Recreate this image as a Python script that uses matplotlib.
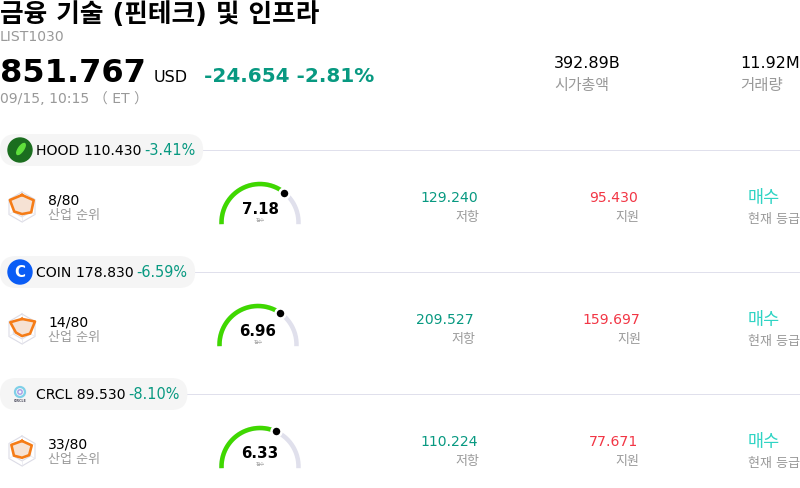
import numpy as np
import matplotlib
matplotlib.use('Agg')
import matplotlib.pyplot as plt
from matplotlib.patches import Circle, Ellipse, FancyBboxPatch

plt.rcParams['font.family'] = ['DejaVu Sans', 'Noto Sans CJK KR']

# header
title = '금융 기술 (핀테크) 및 인프라'
code = 'LIST1030'
index_price = '851.767'
currency = 'USD'
index_change = '-24.654 -2.81%'
timestamp = '09/15, 10:15 （ ET ）'
market_cap = '392.89B'
volume = '11.92M'

# rows
tickers = ['HOOD', 'COIN', 'CRCL']
prices = ['110.430', '178.830', '89.530']
changes = ['-3.41%', '-6.59%', '-8.10%']
ranks = ['8/80', '14/80', '33/80']
scores = [7.18, 6.96, 6.33]
resistance = ['129.240', '209.527', '110.224']
support = ['95.430', '159.697', '77.671']
ratings = ['매수', '매수', '매수']
radar_values = [
    [0.80, 0.90, 0.71, 0.47, 0.60, 0.93],
    [0.67, 1.00, 0.62, 0.47, 0.47, 0.90],
    [0.67, 0.75, 0.55, 0.45, 0.62, 0.82],
]

GREEN = '#089981'
RED = '#f23645'
GREY = '#999999'
TRACK = '#e0e0ec'
W, H = 800, 488


def px(size):
    # css pixels to points at dpi 100
    return size * 0.72


fig = plt.figure(figsize=(W / 100, H / 100), dpi=100)
ax = fig.add_axes([0, 0, 1, 1])
ax.set_xlim(0, W)
ax.set_ylim(H, 0)
ax.axis('off')


def label(x, y, s, size, color='black', weight='normal', ha='left'):
    return ax.text(x, y, s, fontsize=px(size), color=color, fontweight=weight,
                   ha=ha, va='baseline')


def inset_polar(cx, cy, r):
    a = fig.add_axes([(cx - r) / W, 1 - (cy + r) / H, 2 * r / W, 2 * r / H],
                     projection='polar')
    a.set_ylim(0, 1)
    a.axis('off')
    a.patch.set_alpha(0)
    return a


def draw_gauge(cx, cy, score):
    a = inset_polar(cx, cy, 44)
    a.set_ylim(0, 44)
    # arc runs a little past the horizontal on both sides
    over = np.radians(2.5)
    theta = np.linspace(-over, np.pi + over, 200)
    a.plot(theta, np.full(200, 38.5), color=TRACK, lw=px(4.5),
           solid_capstyle='butt', clip_on=False)
    end = np.pi * (1 - score / 10)
    theta = np.linspace(end, np.pi + over, 200)
    a.plot(theta, np.full(200, 38.5), color='#3fd800', lw=px(4.5),
           solid_capstyle='butt', clip_on=False)
    a.plot([end], [38.5], 'o', color='black', ms=px(10), mec='white',
           mew=px(2.5), clip_on=False)
    label(cx, cy - 9, f'{score:.2f}', 15, weight='bold', ha='center')
    label(cx, cy - 1, '점수', 5, color='#aaaaaa', ha='center')


def draw_radar(cx, cy, values):
    a = inset_polar(cx, cy, 15)
    theta = np.linspace(0, 2 * np.pi, 7)
    a.set_theta_zero_location('N')
    a.set_theta_direction(-1)
    for level in [1.0, 0.66, 0.33]:
        a.plot(theta, np.full(7, level), color='#dcdce6', lw=0.8, clip_on=False)
    for t in theta[:3]:
        a.plot([t, t + np.pi], [1, 1], color='#e8e8ee', lw=0.5, clip_on=False)
    v = list(values) + [values[0]]
    a.fill(theta, v, color='#f6e2d4', zorder=3)
    a.plot(theta, v, color='#f57c17', lw=px(2.6), zorder=4, clip_on=False)


def draw_logo(name, cx, cy):
    if name == 'HOOD':
        ax.add_patch(Circle((cx, cy), 12, color='#1b6e1f', zorder=3))
        ax.add_patch(Ellipse((cx + 1, cy - 1), 5, 13, angle=35, color='#5fe03c', zorder=4))
    elif name == 'COIN':
        ax.add_patch(Circle((cx, cy), 12, color='#0a5cf5', zorder=3))
        ax.text(cx, cy + 0.5, 'C', color='white', fontsize=px(15), fontweight='bold',
                ha='center', va='center', zorder=4)
    else:
        ax.add_patch(Circle((cx, cy - 2), 5, fill=False, ec='#7fd0e8', lw=1.6, zorder=3))
        ax.add_patch(Circle((cx, cy - 2), 2.2, fill=False, ec='#a79be8', lw=1, zorder=3))
        ax.text(cx, cy + 8, 'CIRCLE', color='#555566', fontsize=2.4, fontweight='bold',
                ha='center', va='baseline', zorder=4)


# header text
label(0, 22, title, 25.7, weight='bold')
label(0, 41, code, 14, color=GREY)
label(0, 82, index_price, 32, weight='bold')
label(154, 82, currency, 16)
label(204, 82, index_change, 20, color=GREEN, weight='bold')
label(0, 103, timestamp, 14, color=GREY)
label(554, 68, market_cap, 16)
label(554, 90, '시가총액', 15, color=GREY)
label(740, 68, volume, 16)
label(740, 90, '거래량', 15.5, color=GREY)

# small layout differences between rows in the reference
gauge_x = [260, 258, 260]
resist_x = [478, 474, 478]
support_x = [638, 640, 638]

fig.canvas.draw()
renderer = fig.canvas.get_renderer()

for i, name in enumerate(tickers):
    y0 = 122 * i
    head = label(36, y0 + 155, f'{name} {prices[i]} ', 14)
    bb = head.get_window_extent(renderer)
    pct = label(bb.x1 - 2, y0 + 155, changes[i], 14.5, color=GREEN)
    right = pct.get_window_extent(renderer).x1 + 8

    ax.plot([0, W], [y0 + 150, y0 + 150], color=TRACK, lw=0.72, zorder=0)
    ax.add_patch(FancyBboxPatch((0, y0 + 134), right, 32,
                                boxstyle='round,pad=0,rounding_size=16',
                                fc='#f5f5f5', ec='none', zorder=1))
    head.set_zorder(5)
    pct.set_zorder(5)
    draw_logo(name, 20, y0 + 150)

    draw_radar(22, y0 + 207, radar_values[i])
    label(48, y0 + 204, ranks[i], 14)
    label(48, y0 + 219, '산업 순위', 13, color=GREY)

    draw_gauge(gauge_x[i], y0 + 222.5, scores[i])

    label(resist_x[i], y0 + 202, resistance[i], 14, color=GREEN, ha='right')
    label(resist_x[i] + 1, y0 + 221, '저항', 13, color=GREY, ha='right')
    label(support_x[i], y0 + 202, support[i], 14, color=RED, ha='right')
    label(support_x[i] + 1, y0 + 221, '지원', 13, color=GREY, ha='right')
    label(748, y0 + 203, ratings[i], 17.5, color='#2fd4c4')
    label(748, y0 + 223, '현재 등급', 13, color=GREY)

fig.savefig('out.png', dpi=100)
